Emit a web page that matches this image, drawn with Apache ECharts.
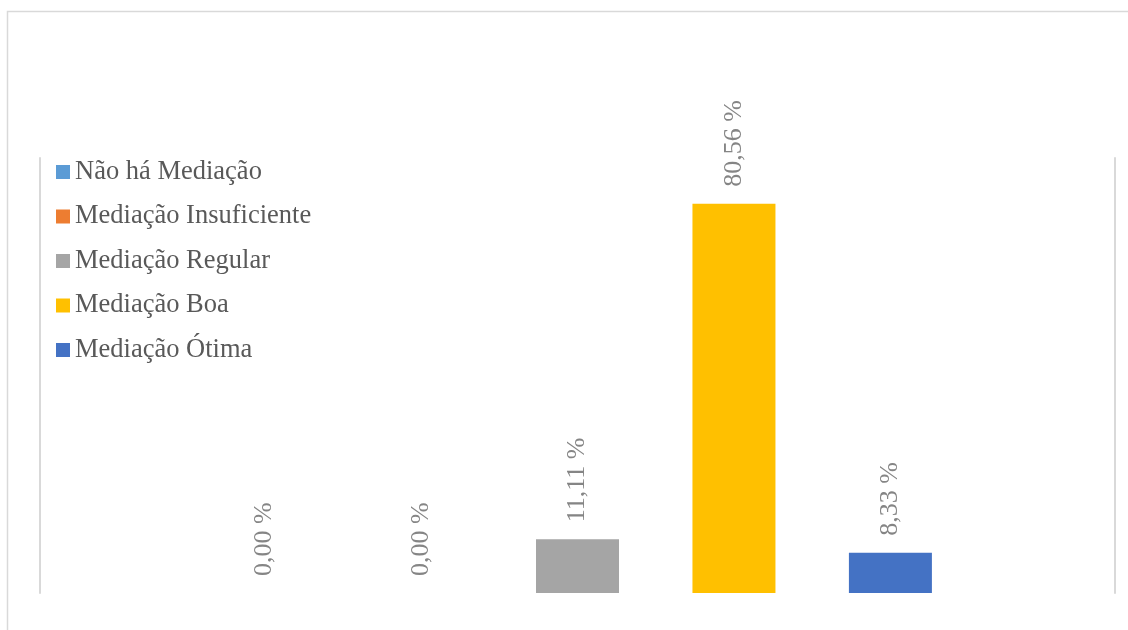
<!DOCTYPE html>
<html>
<head>
<meta charset="utf-8">
<script src="https://cdn.jsdelivr.net/npm/echarts@6/dist/echarts.min.js"></script>
<style>
  html, body { margin: 0; padding: 0; background: #ffffff; }
  #chart { width: 1128px; height: 630px; }
</style>
</head>
<body>
<div id="chart"></div>
<script>
// Distribution of mediation quality ratings (percent of responses)
const categories = [''];
const seriesNames = [
  'Não há Mediação',
  'Mediação Insuficiente',
  'Mediação Regular',
  'Mediação Boa',
  'Mediação Ótima'
];
const seriesValues = [0.00, 0.00, 11.11, 80.56, 8.33];
const seriesColors = ['#5B9BD5', '#ED7D31', '#A5A5A5', '#FFC000', '#4472C4'];

const FONT = '"Liberation Serif", "Times New Roman", serif';

const chart = echarts.init(document.getElementById('chart'), null, { renderer: 'canvas' });

const series = seriesNames.map((name, i) => ({
  name: name,
  type: 'bar',
  data: [seriesValues[i]],
  barWidth: 83,
  barGap: '88.5%',
  itemStyle: { color: seriesColors[i] },
  label: {
    show: true,
    position: 'top',
    distance: 17,
    rotate: 90,
    align: 'left',
    verticalAlign: 'middle',
    fontFamily: FONT,
    fontSize: 26,
    color: '#858585',
    formatter: p => p.value.toFixed(2).replace('.', ',') + ' %'
  }
}));

chart.setOption({
  animation: false,
  backgroundColor: '#ffffff',
  graphic: [{
    type: 'rect',
    shape: { x: 7.5, y: 11.5, width: 1140, height: 640 },
    style: { fill: 'none', stroke: '#d9d9d9', lineWidth: 1.5 },
    silent: true
  }],
  legend: {
    orient: 'vertical',
    left: 51,
    top: 153.5,
    padding: 5,
    itemWidth: 14,
    itemHeight: 14,
    itemGap: 17.5,
    icon: 'rect',
    textStyle: { fontFamily: FONT, fontSize: 26.5, color: '#595959', lineHeight: 26.5 },
    data: seriesNames
  },
  grid: { left: 40, right: 13, top: 158, bottom: 37, containLabel: false },
  xAxis: {
    type: 'category',
    data: categories,
    axisLine: { show: false },
    axisTick: { show: false },
    axisLabel: { show: false },
    splitLine: { show: false }
  },
  yAxis: [
    {
      type: 'value', min: 0, max: 90, position: 'left',
      axisLine: { show: true, lineStyle: { color: '#d9d9d9', width: 2 } },
      axisTick: { show: false }, axisLabel: { show: false }, splitLine: { show: false }
    },
    {
      type: 'value', min: 0, max: 90, position: 'right',
      axisLine: { show: true, lineStyle: { color: '#d9d9d9', width: 2 } },
      axisTick: { show: false }, axisLabel: { show: false }, splitLine: { show: false }
    }
  ],
  series: series
});
</script>
</body>
</html>
